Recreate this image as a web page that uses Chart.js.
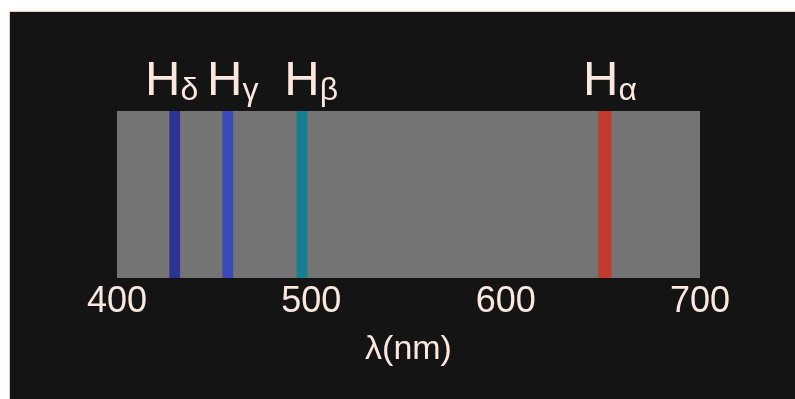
<!DOCTYPE html>
<html>
<head>
<meta charset="utf-8">
<script src="https://cdn.jsdelivr.net/npm/chart.js@4/dist/chart.umd.min.js"></script>
<style>
  html, body { margin: 0; padding: 0; background: #fff; }
  #frame { position: absolute; left: 9px; top: 11px; width: 786px; height: 388px;
           border-top: 1px solid #f2c7b2; border-left: 1px solid #f2c7b2; background: #141414; }
  #chart { display: block; }
</style>
</head>
<body>
<div id="frame"><canvas id="chart" width="785" height="387"></canvas></div>
<script>
// spectral lines (nm)
const lineNames = ['δ', 'γ', 'β', 'α'];
const lineCenters = [429.7, 457.0, 495.2, 651.0];
const lineColors = ['#2b3493', '#3a4bb8', '#177f91', '#c23b2c'];
const xTicks = [400, 500, 600, 700];
const bandRange = [400, 700];

const halfWidths = [2.6, 2.6, 2.6, 3.2];   // drawn width of each line, nm
const labelShift = [-12, -3, 0, -4];       // px nudges so labels don't collide
const textColor = '#fbe7dd';

const labelPlugin = {
  id: 'hLabels',
  afterDatasetsDraw(chart) {
    const ctx = chart.ctx;
    const xs = chart.scales.x;
    const top = chart.chartArea.top;
    ctx.save();
    ctx.fillStyle = textColor;
    lineCenters.forEach((c, i) => {
      const x = xs.getPixelForValue(c) + labelShift[i];
      ctx.font = '49px "Liberation Sans", Arial, sans-serif';
      ctx.textAlign = 'center';
      ctx.textBaseline = 'alphabetic';
      const w = ctx.measureText('H').width;
      ctx.fillText('H', x, top - 16);
      ctx.font = '32px "Liberation Sans", Arial, sans-serif';
      ctx.textAlign = 'left';
      ctx.fillText(lineNames[i], x + w / 2, top - 11);
    });
    ctx.restore();
  }
};

const datasets = [{
  label: 'band',
  data: [bandRange],
  backgroundColor: '#747474',
  order: 2
}].concat(lineCenters.map((c, i) => ({
  label: 'H' + lineNames[i],
  data: [[c - halfWidths[i], c + halfWidths[i]]],
  backgroundColor: lineColors[i],
  order: 1
})));

new Chart(document.getElementById('chart'), {
  type: 'bar',
  data: { labels: ['spectrum'], datasets },
  options: {
    indexAxis: 'y',
    responsive: false,
    animation: false,
    layout: { padding: { left: 107, top: 99, right: 95, bottom: 0 } },
    datasets: { bar: { grouped: false, barPercentage: 1, categoryPercentage: 1, borderWidth: 0 } },
    plugins: { legend: { display: false }, tooltip: { enabled: false } },
    scales: {
      x: {
        type: 'linear',
        min: 400,
        max: 700,
        afterBuildTicks: s => { s.ticks = xTicks.map(v => ({ value: v })); },
        afterFit: s => { s.height = 121; },
        grid: { display: false, drawTicks: false },
        border: { display: false },
        ticks: { color: textColor, padding: 2, font: { family: '"Liberation Sans", Arial, sans-serif', size: 36 } },
        title: {
          display: true,
          text: 'λ(nm)',
          color: textColor,
          padding: { top: 0, bottom: 29 },
          font: { family: '"Liberation Sans", Arial, sans-serif', size: 34 }
        }
      },
      y: { display: false }
    }
  },
  plugins: [labelPlugin]
});
</script>
</body>
</html>
